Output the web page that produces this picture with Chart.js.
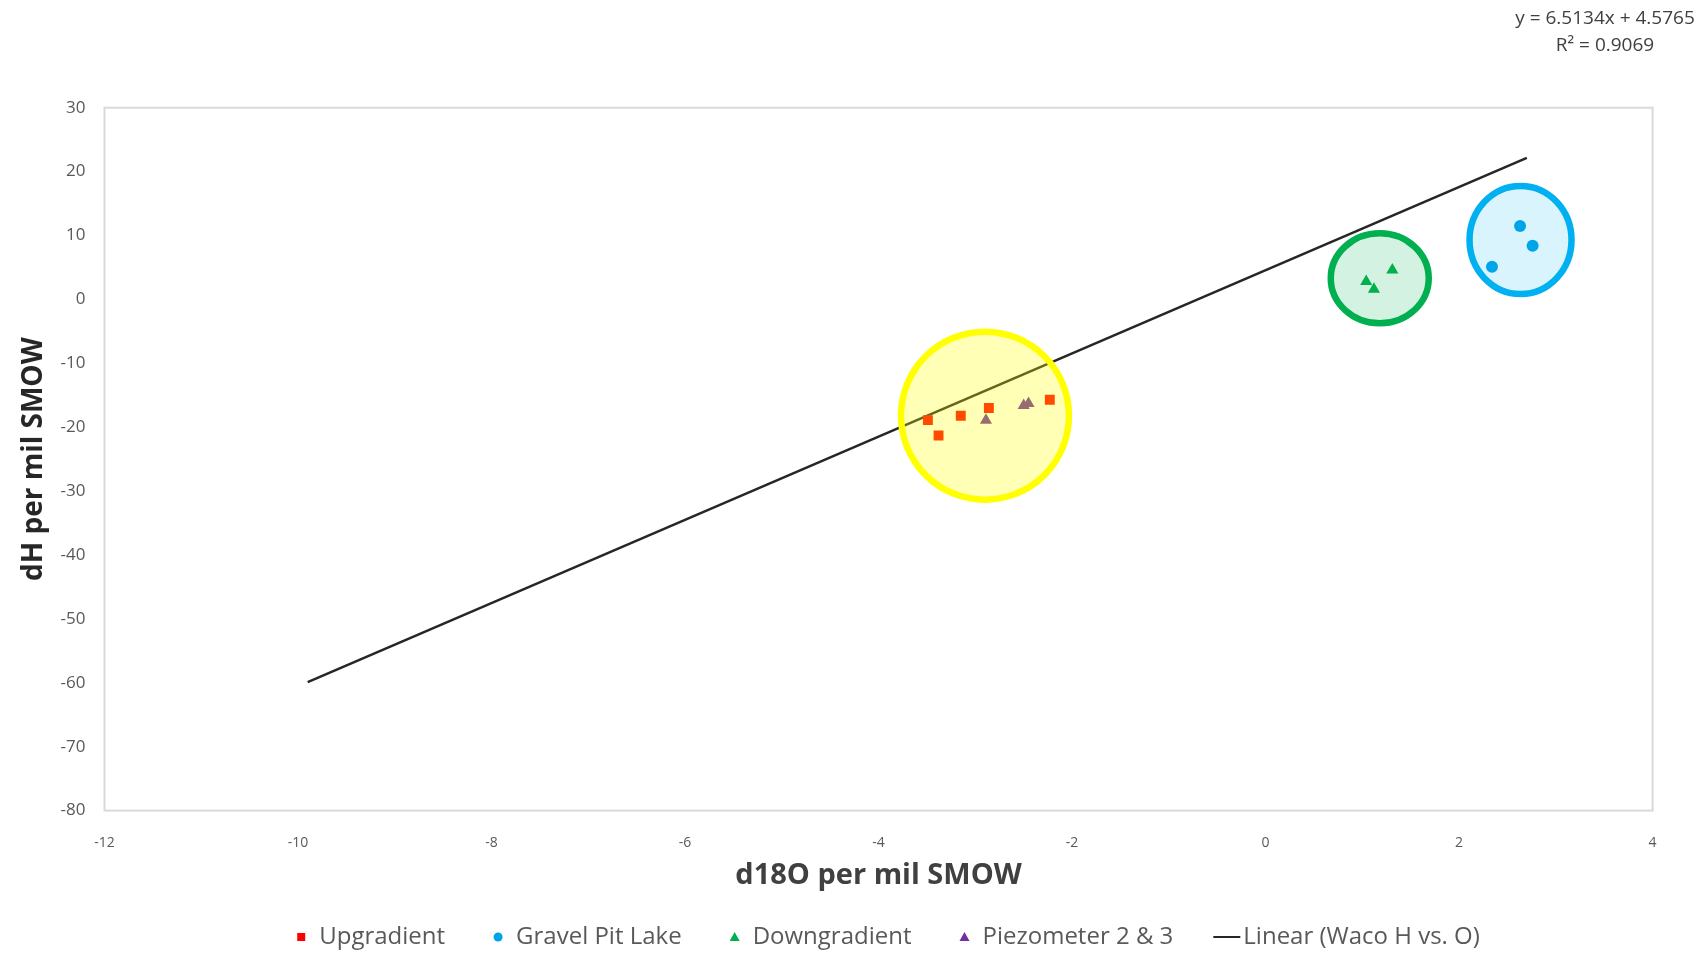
<!DOCTYPE html>
<html>
<head>
<meta charset="utf-8">
<script src="https://cdn.jsdelivr.net/npm/chart.js@4.4.1/dist/chart.umd.min.js"></script>
<style>
  html, body { margin: 0; padding: 0; background: #ffffff; }
  #wrap { width: 1706px; height: 953px; position: relative; }
</style>
</head>
<body>
<div id="wrap"><canvas id="c" width="1706" height="953"></canvas></div>
<script>
// Stable isotope samples: d18O (x) and dH (y), per mil SMOW
const upgradientX   = [-3.49, -3.38, -3.15, -2.86, -2.23];
const upgradientY   = [-18.9, -21.3, -18.2, -17.0, -15.7];
const gravelPitX    = [2.63, 2.76, 2.34];
const gravelPitY    = [11.5, 8.4, 5.1];
const downgradientX = [1.04, 1.12, 1.31];
const downgradientY = [2.8, 1.6, 4.6];
const piezometerX   = [-2.89, -2.45, -2.50];
const piezometerY   = [-18.9, -16.3, -16.6];

// Linear trendline of the Waco H vs. O series
const trendSlope = 6.5134;
const trendIntercept = 4.5765;
const trendR2 = 0.9069;
const trendXRange = [-9.9, 2.7];

// Axis ticks
const xTickValues = [-12, -10, -8, -6, -4, -2, 0, 2, 4];
const yTickValues = [30, 20, 10, 0, -10, -20, -30, -40, -50, -60, -70, -80];

const toPoints = (xs, ys) => xs.map((x, i) => ({ x, y: ys[i] }));

// Highlight rings around each sample group (centre in data units, radii in px)
const highlights = [
  { cx: -2.90, cy: -18.2, rx: 84, ry: 84, stroke: '#FFFF00', fill: 'rgba(255,255,0,0.29)' },
  { cx: 1.18,  cy: 3.3,   rx: 49, ry: 45, stroke: '#00B050', fill: 'rgba(0,176,80,0.17)' },
  { cx: 2.635, cy: 9.3,   rx: 51, ry: 54, stroke: '#00B0F0', fill: 'rgba(0,176,240,0.145)' }
];

const FONT = '"Open Sans", "DejaVu Sans", sans-serif';

const frame = {
  id: 'frame',
  beforeDatasetsDraw(chart) {
    const { ctx, chartArea: a } = chart;
    ctx.save();
    ctx.strokeStyle = '#D9D9D9';
    ctx.lineWidth = 2;
    ctx.strokeRect(a.left, a.top, a.right - a.left, a.bottom - a.top);
    ctx.restore();
  }
};

const rings = {
  id: 'rings',
  afterDatasetsDraw(chart) {
    const { ctx, scales: { x, y } } = chart;
    ctx.save();
    highlights.forEach(h => {
      const px = x.getPixelForValue(h.cx);
      const py = y.getPixelForValue(h.cy);
      ctx.beginPath();
      ctx.ellipse(px, py, h.rx, h.ry, 0, 0, Math.PI * 2);
      ctx.fillStyle = h.fill;
      ctx.fill();
      ctx.lineWidth = 6.5;
      ctx.strokeStyle = h.stroke;
      ctx.stroke();
    });
    ctx.restore();
  }
};

function drawMarker(ctx, style, color, cx, cy) {
  ctx.fillStyle = color;
  ctx.beginPath();
  if (style === 'rect') {
    ctx.rect(cx - 4, cy - 4, 8, 8);
  } else if (style === 'circle') {
    ctx.arc(cx, cy, 4.5, 0, Math.PI * 2);
  } else {
    ctx.moveTo(cx, cy - 5);
    ctx.lineTo(cx + 5, cy + 4);
    ctx.lineTo(cx - 5, cy + 4);
    ctx.closePath();
  }
  ctx.fill();
}

const bottomLegend = {
  id: 'bottomLegend',
  afterDraw(chart) {
    const { ctx, chartArea: a } = chart;
    ctx.save();
    ctx.font = '24px ' + FONT;
    ctx.textBaseline = 'middle';
    ctx.textAlign = 'left';
    const items = chart.data.datasets.map(ds => ({
      label: ds.label,
      style: ds.type === 'line' ? 'line' : ds.pointStyle,
      color: ds.type === 'line' ? ds.borderColor : ds.backgroundColor,
      tw: ctx.measureText(ds.label).width
    }));
    let total = 0;
    items.forEach((it, i) => {
      if (i > 0) total += it.style === 'line' ? 40 : 49;
      total += (it.style === 'line' ? 30 : 22) + it.tw;
    });
    let xPos = (a.left + a.right) / 2 + 10 - total / 2;
    const yPos = 937;
    items.forEach((it, i) => {
      if (i > 0) xPos += it.style === 'line' ? 40 : 49;
      if (it.style === 'line') {
        ctx.strokeStyle = it.color;
        ctx.lineWidth = 2;
        ctx.beginPath();
        ctx.moveTo(xPos, yPos);
        ctx.lineTo(xPos + 27, yPos);
        ctx.stroke();
        xPos += 30;
      } else {
        drawMarker(ctx, it.style, it.color, xPos + 4, yPos);
        xPos += 22;
      }
      ctx.fillStyle = '#595959';
      ctx.fillText(it.label, xPos, yPos);
      xPos += it.tw;
    });
    ctx.restore();
  }
};

const equation = {
  id: 'equation',
  afterDraw(chart) {
    const { ctx } = chart;
    ctx.save();
    ctx.font = '19px ' + FONT;
    ctx.fillStyle = '#404040';
    ctx.textAlign = 'center';
    ctx.textBaseline = 'middle';
    ctx.fillText('y = ' + trendSlope.toFixed(4) + 'x + ' + trendIntercept.toFixed(4), 1605, 19);
    ctx.fillText('R\u00B2 = ' + trendR2.toFixed(4), 1605, 46);
    ctx.restore();
  }
};

new Chart(document.getElementById('c'), {
  type: 'scatter',
  data: {
    datasets: [
      {
        label: 'Upgradient',
        data: toPoints(upgradientX, upgradientY),
        pointStyle: 'rect', pointRadius: 7, pointHoverRadius: 7,
        backgroundColor: '#FF0000', borderColor: '#FF0000', borderWidth: 0
      },
      {
        label: 'Gravel Pit Lake',
        data: toPoints(gravelPitX, gravelPitY),
        pointStyle: 'circle', pointRadius: 6, pointHoverRadius: 6,
        backgroundColor: '#00A3E8', borderColor: '#00A3E8', borderWidth: 0
      },
      {
        label: 'Downgradient',
        data: toPoints(downgradientX, downgradientY),
        pointStyle: 'triangle', pointRadius: 7, pointHoverRadius: 7,
        backgroundColor: '#00B050', borderColor: '#00B050', borderWidth: 0
      },
      {
        label: 'Piezometer 2 & 3',
        data: toPoints(piezometerX, piezometerY),
        pointStyle: 'triangle', pointRadius: 7, pointHoverRadius: 7,
        backgroundColor: '#7030A0', borderColor: '#7030A0', borderWidth: 0
      },
      {
        type: 'line',
        label: 'Linear (Waco H vs. O)',
        data: trendXRange.map(x => ({ x, y: trendSlope * x + trendIntercept })),
        borderColor: '#262626', borderWidth: 2.5,
        pointRadius: 0, pointHoverRadius: 0, fill: false, tension: 0
      }
    ]
  },
  options: {
    responsive: false,
    animation: false,
    events: [],
    layout: { padding: { left: 0, top: 107.7, right: 53.4, bottom: 52.4 } },
    plugins: {
      legend: { display: false },
      tooltip: { enabled: false }
    },
    scales: {
      x: {
        type: 'linear',
        min: -12, max: 4,
        afterBuildTicks: s => { s.ticks = xTickValues.map(v => ({ value: v })); },
        afterFit: s => { s.height = 90; },
        grid: { display: false, drawTicks: false },
        border: { display: false },
        ticks: { padding: 24, color: '#595959', font: { family: FONT, size: 14 } },
        title: {
          display: true,
          text: 'd18O per mil SMOW',
          color: '#404040',
          font: { family: FONT, size: 29, weight: 'bold' },
          padding: { top: 0, bottom: 7 }
        }
      },
      y: {
        type: 'linear',
        min: -80, max: 30,
        afterBuildTicks: s => { s.ticks = yTickValues.map(v => ({ value: v })); },
        afterFit: s => { s.width = 104.5; },
        grid: { display: false, drawTicks: false },
        border: { display: false },
        ticks: { padding: 19, color: '#595959', font: { family: FONT, size: 17 } },
        title: {
          display: true,
          text: 'dH per mil SMOW',
          color: '#262626',
          font: { family: FONT, size: 28, weight: 'bold' },
          padding: { top: 17, bottom: 0 }
        }
      }
    }
  },
  plugins: [frame, rings, bottomLegend, equation]
});
</script>
</body>
</html>
